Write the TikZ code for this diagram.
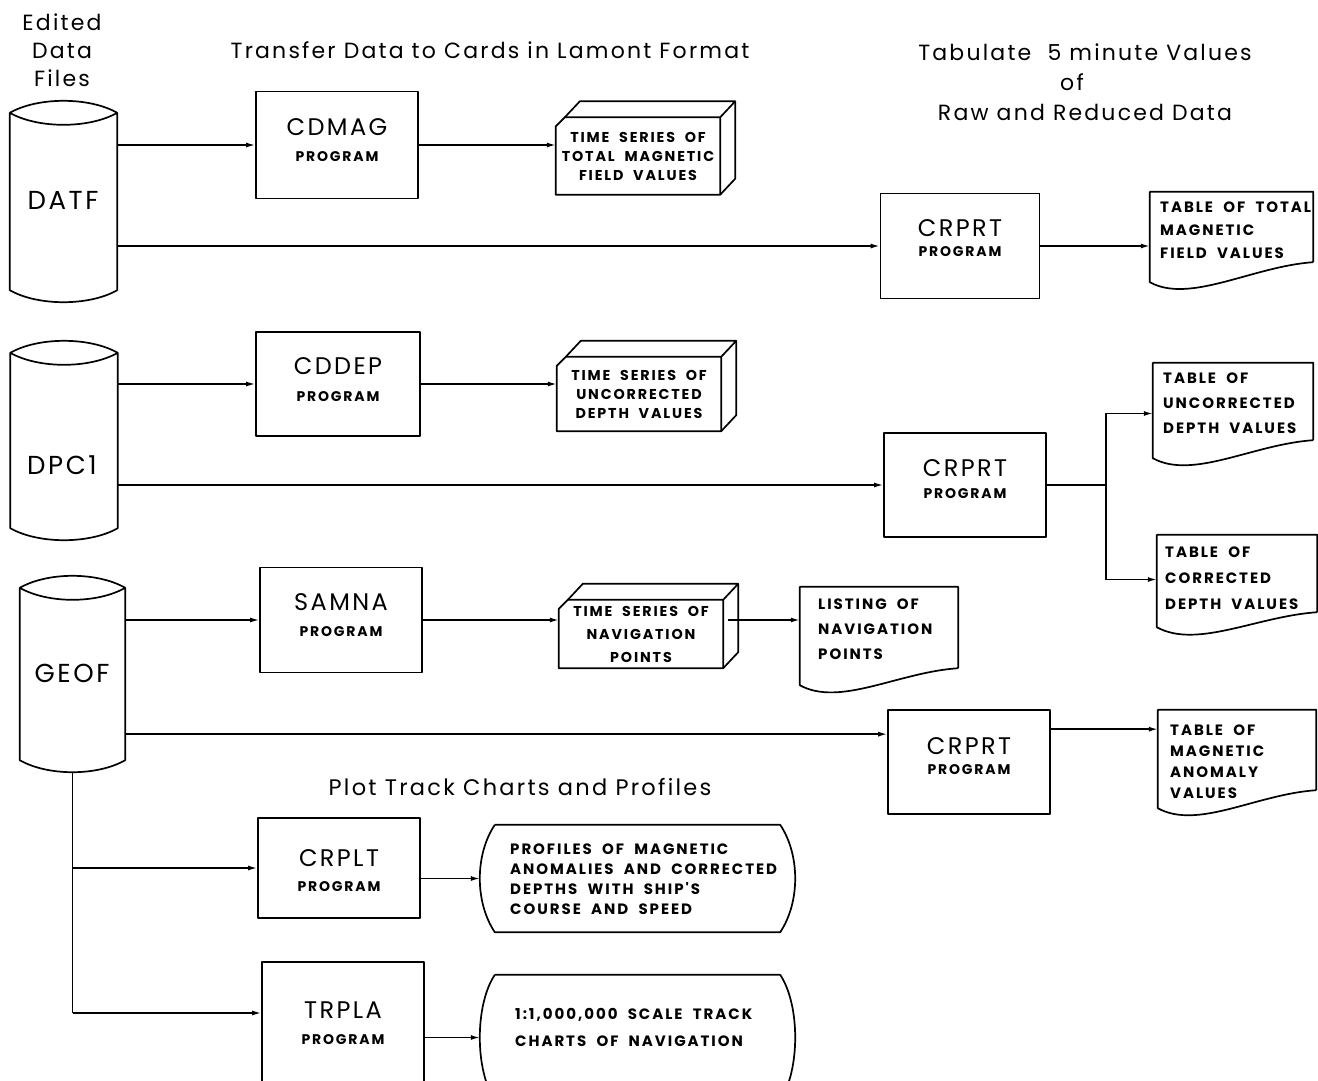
\documentclass[tikz,border=0pt]{standalone}
\usepackage{fontspec}
\setmainfont{Poppins}
\newfontfamily\ttlf[LetterSpace=10]{Poppins}
\newfontfamily\lblf[LetterSpace=10]{Poppins}
\newfontfamily\smlf[LetterSpace=13,WordSpace=2]{Poppins}
\usetikzlibrary{arrows.meta,calc}

\newcommand\cylshape[1]{%
 \draw[shp] (#1.north west) -- (#1.south west)
   .. controls ($(#1.south west)+(28pt,-16pt)$) and ($(#1.south east)+(-28pt,-16pt)$) .. (#1.south east)
   -- (#1.north east)
   .. controls ($(#1.north east)+(-28pt,16pt)$) and ($(#1.north west)+(28pt,16pt)$) .. (#1.north west)
   .. controls ($(#1.north west)+(28pt,-16pt)$) and ($(#1.north east)+(-28pt,-16pt)$) .. (#1.north east);}
\newcommand\cardshape[1]{%
 \draw[shp] ($(#1.north west)+(0,-9pt)$) -- ($(#1.north west)+(9pt,0)$) -- (#1.north east) -- (#1.south east) -- (#1.south west) -- cycle;
 \draw[shp] ($(#1.north west)+(9pt,0)$) -- ($(#1.north west)+(24pt,16pt)$) -- ($(#1.north east)+(15pt,16pt)$) -- (#1.north east);
 \draw[shp] ($(#1.north east)+(15pt,16pt)$) -- ($(#1.south east)+(15pt,16pt)$) -- (#1.south east);}
\newcommand\docshape[2]{%
 \draw[shp] (#1.south east) -- (#1.north east) -- (#1.north west) -- ($(#1.south west)+(0,-#2)$)
  .. controls ($(#1.south west)+(40pt,-#2-22pt)$) and ($(#1.south east)+(-60pt,-4pt)$) .. (#1.south east);}
\newcommand\dispshape[1]{%
 \draw[shp] (#1.north west) -- (#1.north east)
  .. controls ($(#1.north east)+(20pt,-30pt)$) and ($(#1.south east)+(20pt,30pt)$) .. (#1.south east)
  -- (#1.south west)
  .. controls ($(#1.south west)+(-20pt,30pt)$) and ($(#1.north west)+(-20pt,-30pt)$) .. (#1.north west);}
% #1 box node, #2 name, #3 shift of name (up, pt), #4 shift of PROGRAM (down, pt)
\newcommand\progtext[4]{%
 \node[bigtxt] (#1n) at ($(#1.center)+(0,#3)$) {#2};
 \node[prgtxt] (#1p) at ($(#1.center)+(0,-#4)$) {PROGRAM};}

\begin{document}
\begin{tikzpicture}[x=1pt,y=-1pt,
  shp/.style={line width=1.7pt, line join=round},
  arr/.style={line width=1.5pt, -{Latex[length=9pt,width=5pt]}},
  ln/.style={line width=1.5pt},
  cyl/.style={minimum width=107pt, inner sep=0pt},
  cyllabel/.style={font=\lblf\fontsize{26}{28}\selectfont, inner sep=0pt},
  prog/.style={draw, shp, minimum width=162pt, minimum height=105pt, inner sep=0pt},
  bigtxt/.style={font=\lblf\fontsize{24}{26}\selectfont, inner sep=0pt},
  prgtxt/.style={font=\smlf\bfseries\fontsize{14}{16}\selectfont, inner sep=0pt},
  card/.style={minimum width=164pt, inner sep=0pt, align=center, font=\smlf\bfseries\fontsize{14.3}{19}\selectfont},
  doc/.style={inner sep=0pt},
  doctext/.style={align=left, inner sep=0pt, anchor=north west, font=\smlf\bfseries\fontsize{15}{23}\selectfont},
  disptext/.style={align=left, inner sep=0pt, anchor=north west, font=\smlf\bfseries\fontsize{15}{20}\selectfont},
  ttl/.style={font=\ttlf\fontsize{22}{28}\selectfont, inner sep=0pt, align=center}
]
\useasboundingbox (0,0) rectangle (1318,1080);
\fill[white] (0,0) rectangle (1318,1080);

% titles
\node[ttl] (t1) at (62,50) {Edited\\Data\\Files};
\node[ttl] (t2) at (490,50) {Transfer Data to Cards in Lamont Format};
\node[ttl, font=\ttlf\fontsize{22}{30}\selectfont] (t3) at (1085,82) {Tabulate\ \ 5 minute Values\\\hspace*{-26pt}of\\Raw and Reduced Data};
\node[ttl, font=\ttlf\fontsize{22.5}{28}\selectfont] (t4) at (520,787) {Plot Track Charts and Profiles};

% cylinders
\node[cyl, minimum height=177pt] (datf) at (63.5,201.5) {};
\cylshape{datf}
\node[cyllabel] (datfl) at (63,200) {DATF};
\node[cyl, minimum height=175pt] (dpc1) at (64,440.5) {};
\cylshape{dpc1}
\node[cyllabel] (dpc1l) at (62,465) {DPC1};
\node[cyl, minimum height=172pt, minimum width=105pt] (geof) at (72.5,674) {};
\cylshape{geof}
\node[cyllabel] (geofl) at (72,673) {GEOF};

% program boxes
\node[prog, minimum height=107pt] (cdmag) at (337,145) {};
\progtext{cdmag}{CDMAG}{18pt}{12pt}
\node[prog, minimum width=164pt, minimum height=104pt] (cddep) at (338,384) {};
\progtext{cddep}{CDDEP}{18pt}{13pt}
\node[prog] (samna) at (341,620) {};
\progtext{samna}{SAMNA}{18pt}{12pt}
\node[prog, minimum height=100pt] (crplt) at (339,868) {};
\progtext{crplt}{CRPLT}{10pt}{19pt}
\node[prog, minimum height=128pt] (trpla) at (343,1026) {};
\progtext{trpla}{TRPLA}{16pt}{14pt}
\node[prog, minimum width=159pt] (crprt1) at (960,246) {};
\progtext{crprt1}{CRPRT}{18pt}{6pt}
\node[prog, minimum height=104pt] (crprt2) at (965,485) {};
\progtext{crprt2}{CRPRT}{17pt}{9pt}
\node[prog, minimum height=104pt] (crprt3) at (969,762) {};
\progtext{crprt3}{CRPRT}{16pt}{8pt}

% cards
\node[card, minimum height=77pt] (card1) at (638,156) {TIME SERIES OF\\TOTAL MAGNETIC\\FIELD VALUES};
\cardshape{card1}
\node[card, minimum height=74pt] (card2) at (639,394) {TIME SERIES OF\\UNCORRECTED\\DEPTH VALUES};
\cardshape{card2}
\node[card, minimum height=68pt, font=\smlf\bfseries\fontsize{14.3}{23}\selectfont] (card3) at (641,634) {TIME SERIES OF\\NAVIGATION\\POINTS};
\cardshape{card3}

% documents
\node[doc, minimum width=163pt, minimum height=70pt] (doc1) at (1231.5,227) {};
\docshape{doc1}{20pt}
\node[doctext] (doc1t) at (1160,202) {TABLE OF TOTAL\\MAGNETIC\\FIELD VALUES};
\node[doc, minimum width=160pt, minimum height=77pt] (doc2) at (1233,401.5) {};
\docshape{doc2}{18pt}
\node[doctext, font=\smlf\bfseries\fontsize{15}{25}\selectfont] (doc2t) at (1163,373) {TABLE OF\\UNCORRECTED\\DEPTH VALUES};
\node[doc, minimum width=160pt, minimum height=77pt] (doc3) at (1237,573.5) {};
\docshape{doc3}{15pt}
\node[doctext, font=\smlf\bfseries\fontsize{15}{26}\selectfont] (doc3t) at (1165,547) {TABLE OF\\CORRECTED\\DEPTH VALUES};
\node[doc, minimum width=158pt, minimum height=81pt] (listing) at (879,627.5) {};
\docshape{listing}{17pt}
\node[doctext, font=\smlf\bfseries\fontsize{15}{25}\selectfont] (listingt) at (818,599) {LISTING OF\\NAVIGATION\\POINTS};
\node[doc, minimum width=158pt, minimum height=80pt] (anom) at (1237,750) {};
\docshape{anom}{18pt}
\node[doctext, font=\smlf\bfseries\fontsize{15}{21}\selectfont] (anomt) at (1170,725) {TABLE OF\\MAGNETIC\\ANOMALY\\VALUES};

% displays
\node[doc, minimum width=285pt, minimum height=107pt] (disp1) at (637.5,878.5) {};
\dispshape{disp1}
\node[disptext] (disp1t) at (510,844) {PROFILES OF MAGNETIC\\ANOMALIES AND CORRECTED\\DEPTHS WITH SHIP'S\\COURSE AND SPEED};
\node[doc, minimum width=285pt, minimum height=125pt] (disp2) at (637.5,1037.5) {};
\dispshape{disp2}
\node[disptext, font=\smlf\bfseries\fontsize{15}{27}\selectfont] (disp2t) at (515,1008) {1:1,000,000 SCALE TRACK\\CHARTS OF NAVIGATION};

% connectors
\draw[arr] (datf.east |- cdmag.west) -- (cdmag.west);
\draw[arr] (datf.east |- crprt1.west) -- (crprt1.west);
\draw[arr] (cdmag.east) -- (cdmag.east -| card1.west);
\draw[arr] (crprt1.east) -- (crprt1.east -| doc1.west);

\draw[arr] (dpc1.east |- cddep.west) -- (cddep.west);
\draw[arr] (dpc1.east |- crprt2.west) -- (crprt2.west);
\draw[arr] (cddep.east) -- (cddep.east -| card2.west);
\coordinate (split) at ($(crprt2.east)+(59pt,0)$);
\coordinate (d2in) at ($(doc2.west)+(0,-12pt)$);
\coordinate (d3in) at ($(doc3.west)+(0,-6pt)$);
\draw[ln] (crprt2.east) -- (split);
\draw[arr] (split) |- (d2in);
\draw[arr] (split) |- (d3in);

\draw[arr] (geof.east |- samna.west) -- (samna.west);
\draw[arr] (samna.east) -- (samna.east -| card3.west);
\coordinate (c3out) at ($(card3.east)+(5pt,14pt)$);
\draw[arr] (c3out) -- (c3out -| listing.west);
\coordinate (cr3in) at ($(crprt3.north west)+(0,-25pt)$);
\draw[arr] (geof.east |- cr3in) -- (cr3in);
\coordinate (cr3out) at ($(crprt3.north east)+(0,-20pt)$);
\draw[arr] (cr3out) -- (cr3out -| anom.west);

\coordinate (gbot) at ($(geof.south)+(0,-12pt)$);
\coordinate (trin) at ($(trpla.west)+(0,13pt)$);
\draw[ln] (gbot) -- (gbot |- trin);
\draw[arr] (gbot |- crplt.west) -- (crplt.west);
\draw[arr] (gbot |- trin) -- (trin);
\coordinate (d1in) at ($(disp1.west)+(-15pt,0)$);
\coordinate (d2bin) at ($(disp2.west)+(-15pt,0)$);
\draw[arr] (crplt.east |- d1in) -- (d1in);
\draw[arr] (trpla.east |- d2bin) -- (d2bin);
\end{tikzpicture}
\end{document}
